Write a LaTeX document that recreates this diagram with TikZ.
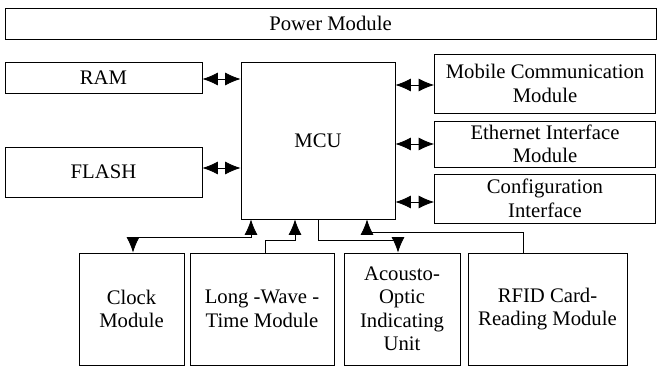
\documentclass[tikz,border=0pt]{standalone}
\usepackage{fontspec}
\setmainfont{Liberation Serif}
\usepackage{tikz}
\usetikzlibrary{arrows.meta,positioning}

\begin{document}
\begin{tikzpicture}[x=1pt,y=-1pt, >={Latex[length=15.5pt,width=13pt]},
    block/.style={draw, line width=0.8pt, align=center, inner sep=1pt,
      font=\fontsize{20.7}{23.5}\selectfont},
    link/.style={line width=0.8pt, ->},
    dlink/.style={line width=0.8pt, <->}]
    \useasboundingbox (0,0) rectangle (657,366);
    \node[block, minimum width=651pt, minimum height=31pt] (power) at (330.5,23.5) {Power Module};
    \node[block, minimum width=197pt, minimum height=31pt] (ram) at (103.5,77.5) {RAM};
    \node[block, minimum width=197pt, minimum height=50pt] (flash) at (103.5,172) {FLASH};
    \node[block, minimum width=154pt, minimum height=157pt] (mcu) at (318,140.5) {MCU};
    \node[block, minimum width=221pt, minimum height=59pt] (mobile) at (545,83.5) {Mobile Communication\\Module};
    \node[block, minimum width=221pt, minimum height=46pt] (eth) at (545,144) {Ethernet Interface\\Module};
    \node[block, minimum width=221pt, minimum height=49pt] (config) at (545,198.5) {Configuration\\Interface};
    \node[block, minimum width=105pt, minimum height=112pt] (clock) at (131.5,309) {Clock\\Module};
    \node[block, minimum width=144pt, minimum height=112pt] (lwt) at (262,309) {Long -Wave -\\Time Module};
    \node[block, minimum width=116pt, minimum height=112pt] (aou) at (402,309) {Acousto-\\Optic\\Indicating\\Unit};
    \node[block, minimum width=159pt, minimum height=112pt] (rfid) at (547.5,309) {RFID Card-\\Reading Module};
    \draw[dlink] ([yshift=-1.5pt]ram.east) -- ([yshift=-1.5pt]ram.east -| mcu.west);
    \draw[dlink] ([yshift=4pt]flash.east) -- ([yshift=4pt]flash.east -| mcu.west);
    \draw[dlink] ([yshift=-1.5pt]mobile.west) -- ([yshift=-1.5pt]mobile.west -| mcu.east);
    \draw[dlink] (eth.west) -- (eth.west -| mcu.east);
    \draw[dlink] ([yshift=-3.5pt]config.west) -- ([yshift=-3.5pt]config.west -| mcu.east);
    \draw[dlink] ([xshift=1.5pt]clock.north) -- ++(0,-15) -| ([xshift=-67pt]mcu.south);
    \draw[link] ([xshift=3pt]lwt.north) -- ++(0,-12) -| ([xshift=-23pt]mcu.south);
    \draw[link] (mcu.south) -- ++(0,21) -| ([xshift=-4pt]aou.north);
    \draw[link] ([xshift=-24.5pt]rfid.north) -- ++(0,-20) -| ([xshift=49pt]mcu.south);
\end{tikzpicture}
\end{document}
